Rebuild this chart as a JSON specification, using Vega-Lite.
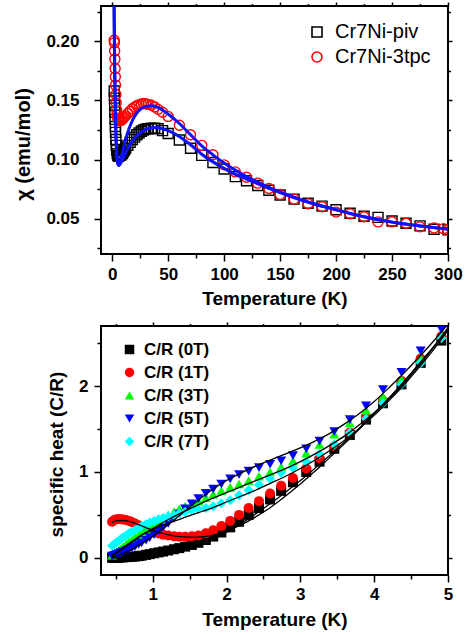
{
"$schema":"https://vega.github.io/schema/vega-lite/v6.json",
"padding":{"left":12,"top":0,"right":0,"bottom":0},
"background":"white",
"config":{"font":"Liberation Sans","view":{"stroke":"black","strokeWidth":2},
"axis":{"grid":false,"domain":false,"labelFontSize":17,"labelFontWeight":"bold","titleFontSize":19,"titleFontWeight":"bold","labelColor":"black","titleColor":"black","tickColor":"black","tickWidth":1.5,"labelOverlap":false,"labelFlush":false}},
"resolve":{"scale":{"color":"independent","shape":"independent"},"legend":{"color":"independent","shape":"independent"}},
"datasets":{
"chi":[
{"T":1.8,"v":0.158,"s":"Cr7Ni-piv"},{"T":2.0,"v":0.152,"s":"Cr7Ni-piv"},{"T":2.2,"v":0.146,"s":"Cr7Ni-piv"},{"T":2.4,"v":0.140,"s":"Cr7Ni-piv"},{"T":2.6,"v":0.134,"s":"Cr7Ni-piv"},{"T":2.8,"v":0.128,"s":"Cr7Ni-piv"},{"T":3.0,"v":0.123,"s":"Cr7Ni-piv"},{"T":3.3,"v":0.117,"s":"Cr7Ni-piv"},{"T":3.6,"v":0.112,"s":"Cr7Ni-piv"},{"T":4.0,"v":0.108,"s":"Cr7Ni-piv"},{"T":4.5,"v":0.105,"s":"Cr7Ni-piv"},{"T":5.0,"v":0.1035,"s":"Cr7Ni-piv"},{"T":5.5,"v":0.103,"s":"Cr7Ni-piv"},{"T":6,"v":0.103,"s":"Cr7Ni-piv"},{"T":7,"v":0.1035,"s":"Cr7Ni-piv"},{"T":8,"v":0.104,"s":"Cr7Ni-piv"},{"T":9,"v":0.105,"s":"Cr7Ni-piv"},{"T":10,"v":0.1065,"s":"Cr7Ni-piv"},{"T":11,"v":0.108,"s":"Cr7Ni-piv"},{"T":12,"v":0.1095,"s":"Cr7Ni-piv"},{"T":14,"v":0.112,"s":"Cr7Ni-piv"},{"T":16,"v":0.1145,"s":"Cr7Ni-piv"},{"T":18,"v":0.117,"s":"Cr7Ni-piv"},{"T":20,"v":0.119,"s":"Cr7Ni-piv"},{"T":22,"v":0.121,"s":"Cr7Ni-piv"},{"T":24,"v":0.1225,"s":"Cr7Ni-piv"},{"T":26,"v":0.124,"s":"Cr7Ni-piv"},{"T":28,"v":0.125,"s":"Cr7Ni-piv"},{"T":30,"v":0.1257,"s":"Cr7Ni-piv"},{"T":32,"v":0.126,"s":"Cr7Ni-piv"},{"T":35,"v":0.1265,"s":"Cr7Ni-piv"},{"T":38,"v":0.1265,"s":"Cr7Ni-piv"},{"T":41,"v":0.126,"s":"Cr7Ni-piv"},{"T":45,"v":0.1245,"s":"Cr7Ni-piv"},{"T":50,"v":0.122,"s":"Cr7Ni-piv"},{"T":60,"v":0.1165,"s":"Cr7Ni-piv"},{"T":70,"v":0.1095,"s":"Cr7Ni-piv"},{"T":80,"v":0.1035,"s":"Cr7Ni-piv"},{"T":90,"v":0.0975,"s":"Cr7Ni-piv"},{"T":100,"v":0.092,"s":"Cr7Ni-piv"},{"T":110,"v":0.0855,"s":"Cr7Ni-piv"},{"T":120,"v":0.082,"s":"Cr7Ni-piv"},{"T":130,"v":0.078,"s":"Cr7Ni-piv"},{"T":140,"v":0.074,"s":"Cr7Ni-piv"},{"T":150,"v":0.070,"s":"Cr7Ni-piv"},{"T":162.5,"v":0.0665,"s":"Cr7Ni-piv"},{"T":175,"v":0.063,"s":"Cr7Ni-piv"},{"T":187.5,"v":0.0605,"s":"Cr7Ni-piv"},{"T":200,"v":0.0575,"s":"Cr7Ni-piv"},{"T":212.5,"v":0.0545,"s":"Cr7Ni-piv"},{"T":225,"v":0.052,"s":"Cr7Ni-piv"},{"T":237.5,"v":0.051,"s":"Cr7Ni-piv"},{"T":250,"v":0.048,"s":"Cr7Ni-piv"},{"T":262.5,"v":0.046,"s":"Cr7Ni-piv"},{"T":275,"v":0.0438,"s":"Cr7Ni-piv"},{"T":287.5,"v":0.041,"s":"Cr7Ni-piv"},{"T":300,"v":0.0405,"s":"Cr7Ni-piv"},
{"T":1.8,"v":0.201,"s":"Cr7Ni-3tpc"},{"T":2.0,"v":0.199,"s":"Cr7Ni-3tpc"},{"T":2.2,"v":0.192,"s":"Cr7Ni-3tpc"},{"T":2.4,"v":0.185,"s":"Cr7Ni-3tpc"},{"T":2.6,"v":0.177,"s":"Cr7Ni-3tpc"},{"T":2.8,"v":0.170,"s":"Cr7Ni-3tpc"},{"T":3.0,"v":0.163,"s":"Cr7Ni-3tpc"},{"T":3.3,"v":0.155,"s":"Cr7Ni-3tpc"},{"T":3.6,"v":0.148,"s":"Cr7Ni-3tpc"},{"T":4.0,"v":0.142,"s":"Cr7Ni-3tpc"},{"T":4.5,"v":0.138,"s":"Cr7Ni-3tpc"},{"T":5.0,"v":0.135,"s":"Cr7Ni-3tpc"},{"T":5.5,"v":0.134,"s":"Cr7Ni-3tpc"},{"T":6,"v":0.133,"s":"Cr7Ni-3tpc"},{"T":7,"v":0.133,"s":"Cr7Ni-3tpc"},{"T":8,"v":0.133,"s":"Cr7Ni-3tpc"},{"T":9,"v":0.134,"s":"Cr7Ni-3tpc"},{"T":10,"v":0.135,"s":"Cr7Ni-3tpc"},{"T":11,"v":0.136,"s":"Cr7Ni-3tpc"},{"T":12,"v":0.137,"s":"Cr7Ni-3tpc"},{"T":14,"v":0.139,"s":"Cr7Ni-3tpc"},{"T":16,"v":0.141,"s":"Cr7Ni-3tpc"},{"T":18,"v":0.143,"s":"Cr7Ni-3tpc"},{"T":20,"v":0.1445,"s":"Cr7Ni-3tpc"},{"T":22,"v":0.1455,"s":"Cr7Ni-3tpc"},{"T":24,"v":0.1465,"s":"Cr7Ni-3tpc"},{"T":26,"v":0.147,"s":"Cr7Ni-3tpc"},{"T":28,"v":0.1475,"s":"Cr7Ni-3tpc"},{"T":30,"v":0.1472,"s":"Cr7Ni-3tpc"},{"T":32,"v":0.1467,"s":"Cr7Ni-3tpc"},{"T":35,"v":0.146,"s":"Cr7Ni-3tpc"},{"T":38,"v":0.1445,"s":"Cr7Ni-3tpc"},{"T":41,"v":0.1425,"s":"Cr7Ni-3tpc"},{"T":45,"v":0.140,"s":"Cr7Ni-3tpc"},{"T":50,"v":0.1365,"s":"Cr7Ni-3tpc"},{"T":60,"v":0.129,"s":"Cr7Ni-3tpc"},{"T":70,"v":0.121,"s":"Cr7Ni-3tpc"},{"T":80,"v":0.112,"s":"Cr7Ni-3tpc"},{"T":90,"v":0.104,"s":"Cr7Ni-3tpc"},{"T":100,"v":0.0955,"s":"Cr7Ni-3tpc"},{"T":110,"v":0.0895,"s":"Cr7Ni-3tpc"},{"T":120,"v":0.085,"s":"Cr7Ni-3tpc"},{"T":130,"v":0.080,"s":"Cr7Ni-3tpc"},{"T":140,"v":0.0755,"s":"Cr7Ni-3tpc"},{"T":150,"v":0.0705,"s":"Cr7Ni-3tpc"},{"T":162.5,"v":0.0665,"s":"Cr7Ni-3tpc"},{"T":175,"v":0.0625,"s":"Cr7Ni-3tpc"},{"T":187.5,"v":0.060,"s":"Cr7Ni-3tpc"},{"T":200,"v":0.0555,"s":"Cr7Ni-3tpc"},{"T":212.5,"v":0.054,"s":"Cr7Ni-3tpc"},{"T":225,"v":0.0515,"s":"Cr7Ni-3tpc"},{"T":237.5,"v":0.0472,"s":"Cr7Ni-3tpc"},{"T":250,"v":0.0472,"s":"Cr7Ni-3tpc"},{"T":262.5,"v":0.046,"s":"Cr7Ni-3tpc"},{"T":275,"v":0.043,"s":"Cr7Ni-3tpc"},{"T":287.5,"v":0.042,"s":"Cr7Ni-3tpc"},{"T":296,"v":0.0415,"s":"Cr7Ni-3tpc"},{"T":300,"v":0.040,"s":"Cr7Ni-3tpc"}
],
"chifit":[
{"T":1.3,"v":0.30,"f":"a"},{"T":1.5,"v":0.26,"f":"a"},{"T":1.7,"v":0.23,"f":"a"},{"T":2.0,"v":0.197,"f":"a"},{"T":2.3,"v":0.172,"f":"a"},{"T":2.6,"v":0.153,"f":"a"},{"T":3.0,"v":0.133,"f":"a"},{"T":3.5,"v":0.116,"f":"a"},{"T":4.0,"v":0.106,"f":"a"},{"T":4.5,"v":0.100,"f":"a"},{"T":5.0,"v":0.097,"f":"a"},{"T":5.5,"v":0.0955,"f":"a"},{"T":6.0,"v":0.095,"f":"a"},{"T":7,"v":0.0975,"f":"a"},{"T":8,"v":0.101,"f":"a"},{"T":10,"v":0.109,"f":"a"},{"T":12,"v":0.117,"f":"a"},{"T":15,"v":0.126,"f":"a"},{"T":18,"v":0.133,"f":"a"},{"T":21,"v":0.138,"f":"a"},{"T":25,"v":0.1425,"f":"a"},{"T":30,"v":0.145,"f":"a"},{"T":35,"v":0.1455,"f":"a"},{"T":40,"v":0.1445,"f":"a"},{"T":45,"v":0.142,"f":"a"},{"T":50,"v":0.1385,"f":"a"},{"T":60,"v":0.1305,"f":"a"},{"T":70,"v":0.121,"f":"a"},{"T":80,"v":0.1115,"f":"a"},{"T":90,"v":0.104,"f":"a"},{"T":100,"v":0.097,"f":"a"},{"T":110,"v":0.091,"f":"a"},{"T":120,"v":0.0855,"f":"a"},{"T":140,"v":0.0765,"f":"a"},{"T":160,"v":0.069,"f":"a"},{"T":180,"v":0.0625,"f":"a"},{"T":200,"v":0.0575,"f":"a"},{"T":225,"v":0.0515,"f":"a"},{"T":250,"v":0.047,"f":"a"},{"T":275,"v":0.0438,"f":"a"},{"T":300,"v":0.0412,"f":"a"},
{"T":1.3,"v":0.30,"f":"b"},{"T":1.5,"v":0.26,"f":"b"},{"T":1.7,"v":0.23,"f":"b"},{"T":2.0,"v":0.197,"f":"b"},{"T":2.3,"v":0.172,"f":"b"},{"T":2.6,"v":0.153,"f":"b"},{"T":3.0,"v":0.133,"f":"b"},{"T":3.5,"v":0.116,"f":"b"},{"T":4.0,"v":0.106,"f":"b"},{"T":4.5,"v":0.100,"f":"b"},{"T":5.0,"v":0.097,"f":"b"},{"T":5.5,"v":0.0955,"f":"b"},{"T":6.0,"v":0.095,"f":"b"},{"T":7,"v":0.096,"f":"b"},{"T":8,"v":0.0975,"f":"b"},{"T":10,"v":0.1015,"f":"b"},{"T":12,"v":0.1055,"f":"b"},{"T":15,"v":0.111,"f":"b"},{"T":18,"v":0.1155,"f":"b"},{"T":21,"v":0.119,"f":"b"},{"T":25,"v":0.1225,"f":"b"},{"T":30,"v":0.1255,"f":"b"},{"T":35,"v":0.127,"f":"b"},{"T":40,"v":0.1272,"f":"b"},{"T":45,"v":0.126,"f":"b"},{"T":50,"v":0.1245,"f":"b"},{"T":60,"v":0.1195,"f":"b"},{"T":70,"v":0.1125,"f":"b"},{"T":80,"v":0.1045,"f":"b"},{"T":90,"v":0.098,"f":"b"},{"T":100,"v":0.0925,"f":"b"},{"T":110,"v":0.0875,"f":"b"},{"T":120,"v":0.0835,"f":"b"},{"T":140,"v":0.0755,"f":"b"},{"T":160,"v":0.0685,"f":"b"},{"T":180,"v":0.0625,"f":"b"},{"T":200,"v":0.0575,"f":"b"},{"T":225,"v":0.0515,"f":"b"},{"T":250,"v":0.047,"f":"b"},{"T":275,"v":0.0438,"f":"b"},{"T":300,"v":0.0412,"f":"b"}
],
"cp":[
{"T":0.45,"C":0.0,"s":"C/R (0T)"},{"T":0.48,"C":0.0,"s":"C/R (0T)"},{"T":0.51,"C":0.0,"s":"C/R (0T)"},{"T":0.54,"C":0.004,"s":"C/R (0T)"},{"T":0.57,"C":0.005,"s":"C/R (0T)"},{"T":0.60,"C":0.006,"s":"C/R (0T)"},{"T":0.64,"C":0.008,"s":"C/R (0T)"},{"T":0.68,"C":0.01,"s":"C/R (0T)"},{"T":0.72,"C":0.012,"s":"C/R (0T)"},{"T":0.76,"C":0.015,"s":"C/R (0T)"},{"T":0.81,"C":0.02,"s":"C/R (0T)"},{"T":0.85,"C":0.025,"s":"C/R (0T)"},{"T":0.91,"C":0.034,"s":"C/R (0T)"},{"T":0.96,"C":0.043,"s":"C/R (0T)"},{"T":1.02,"C":0.053,"s":"C/R (0T)"},{"T":1.08,"C":0.063,"s":"C/R (0T)"},{"T":1.14,"C":0.073,"s":"C/R (0T)"},{"T":1.21,"C":0.085,"s":"C/R (0T)"},{"T":1.29,"C":0.10,"s":"C/R (0T)"},{"T":1.36,"C":0.113,"s":"C/R (0T)"},{"T":1.44,"C":0.13,"s":"C/R (0T)"},{"T":1.53,"C":0.15,"s":"C/R (0T)"},{"T":1.62,"C":0.175,"s":"C/R (0T)"},{"T":1.72,"C":0.208,"s":"C/R (0T)"},{"T":1.82,"C":0.248,"s":"C/R (0T)"},{"T":1.93,"C":0.295,"s":"C/R (0T)"},{"T":2.05,"C":0.355,"s":"C/R (0T)"},{"T":2.17,"C":0.42,"s":"C/R (0T)"},{"T":2.30,"C":0.50,"s":"C/R (0T)"},{"T":2.44,"C":0.58,"s":"C/R (0T)"},{"T":2.59,"C":0.68,"s":"C/R (0T)"},{"T":2.74,"C":0.78,"s":"C/R (0T)"},{"T":2.90,"C":0.88,"s":"C/R (0T)"},{"T":3.08,"C":1.00,"s":"C/R (0T)"},{"T":3.26,"C":1.12,"s":"C/R (0T)"},{"T":3.46,"C":1.27,"s":"C/R (0T)"},{"T":3.67,"C":1.43,"s":"C/R (0T)"},{"T":3.89,"C":1.61,"s":"C/R (0T)"},{"T":4.12,"C":1.80,"s":"C/R (0T)"},{"T":4.37,"C":2.02,"s":"C/R (0T)"},{"T":4.63,"C":2.27,"s":"C/R (0T)"},{"T":4.91,"C":2.53,"s":"C/R (0T)"},
{"T":0.45,"C":0.42,"s":"C/R (1T)"},{"T":0.48,"C":0.44,"s":"C/R (1T)"},{"T":0.51,"C":0.45,"s":"C/R (1T)"},{"T":0.54,"C":0.45,"s":"C/R (1T)"},{"T":0.57,"C":0.45,"s":"C/R (1T)"},{"T":0.60,"C":0.445,"s":"C/R (1T)"},{"T":0.64,"C":0.44,"s":"C/R (1T)"},{"T":0.68,"C":0.43,"s":"C/R (1T)"},{"T":0.72,"C":0.415,"s":"C/R (1T)"},{"T":0.76,"C":0.40,"s":"C/R (1T)"},{"T":0.81,"C":0.38,"s":"C/R (1T)"},{"T":0.85,"C":0.36,"s":"C/R (1T)"},{"T":0.91,"C":0.34,"s":"C/R (1T)"},{"T":0.96,"C":0.32,"s":"C/R (1T)"},{"T":1.02,"C":0.30,"s":"C/R (1T)"},{"T":1.08,"C":0.285,"s":"C/R (1T)"},{"T":1.14,"C":0.27,"s":"C/R (1T)"},{"T":1.21,"C":0.26,"s":"C/R (1T)"},{"T":1.29,"C":0.25,"s":"C/R (1T)"},{"T":1.36,"C":0.245,"s":"C/R (1T)"},{"T":1.44,"C":0.245,"s":"C/R (1T)"},{"T":1.53,"C":0.25,"s":"C/R (1T)"},{"T":1.62,"C":0.26,"s":"C/R (1T)"},{"T":1.72,"C":0.285,"s":"C/R (1T)"},{"T":1.82,"C":0.32,"s":"C/R (1T)"},{"T":1.93,"C":0.37,"s":"C/R (1T)"},{"T":2.05,"C":0.43,"s":"C/R (1T)"},{"T":2.17,"C":0.50,"s":"C/R (1T)"},{"T":2.30,"C":0.58,"s":"C/R (1T)"},{"T":2.44,"C":0.66,"s":"C/R (1T)"},{"T":2.59,"C":0.75,"s":"C/R (1T)"},{"T":2.74,"C":0.84,"s":"C/R (1T)"},{"T":2.90,"C":0.93,"s":"C/R (1T)"},{"T":3.08,"C":1.04,"s":"C/R (1T)"},{"T":3.26,"C":1.16,"s":"C/R (1T)"},{"T":3.46,"C":1.30,"s":"C/R (1T)"},{"T":3.67,"C":1.46,"s":"C/R (1T)"},{"T":3.89,"C":1.64,"s":"C/R (1T)"},{"T":4.12,"C":1.83,"s":"C/R (1T)"},{"T":4.37,"C":2.06,"s":"C/R (1T)"},{"T":4.63,"C":2.32,"s":"C/R (1T)"},{"T":4.91,"C":2.58,"s":"C/R (1T)"},
{"T":0.45,"C":0.03,"s":"C/R (3T)"},{"T":0.48,"C":0.05,"s":"C/R (3T)"},{"T":0.51,"C":0.07,"s":"C/R (3T)"},{"T":0.54,"C":0.09,"s":"C/R (3T)"},{"T":0.57,"C":0.11,"s":"C/R (3T)"},{"T":0.60,"C":0.13,"s":"C/R (3T)"},{"T":0.64,"C":0.16,"s":"C/R (3T)"},{"T":0.68,"C":0.19,"s":"C/R (3T)"},{"T":0.72,"C":0.21,"s":"C/R (3T)"},{"T":0.76,"C":0.24,"s":"C/R (3T)"},{"T":0.81,"C":0.27,"s":"C/R (3T)"},{"T":0.85,"C":0.30,"s":"C/R (3T)"},{"T":0.91,"C":0.33,"s":"C/R (3T)"},{"T":0.96,"C":0.36,"s":"C/R (3T)"},{"T":1.02,"C":0.40,"s":"C/R (3T)"},{"T":1.08,"C":0.43,"s":"C/R (3T)"},{"T":1.14,"C":0.46,"s":"C/R (3T)"},{"T":1.21,"C":0.50,"s":"C/R (3T)"},{"T":1.29,"C":0.54,"s":"C/R (3T)"},{"T":1.36,"C":0.57,"s":"C/R (3T)"},{"T":1.44,"C":0.60,"s":"C/R (3T)"},{"T":1.53,"C":0.63,"s":"C/R (3T)"},{"T":1.62,"C":0.66,"s":"C/R (3T)"},{"T":1.72,"C":0.70,"s":"C/R (3T)"},{"T":1.82,"C":0.74,"s":"C/R (3T)"},{"T":1.93,"C":0.78,"s":"C/R (3T)"},{"T":2.05,"C":0.82,"s":"C/R (3T)"},{"T":2.17,"C":0.86,"s":"C/R (3T)"},{"T":2.30,"C":0.90,"s":"C/R (3T)"},{"T":2.44,"C":0.95,"s":"C/R (3T)"},{"T":2.59,"C":1.00,"s":"C/R (3T)"},{"T":2.74,"C":1.06,"s":"C/R (3T)"},{"T":2.90,"C":1.13,"s":"C/R (3T)"},{"T":3.08,"C":1.22,"s":"C/R (3T)"},{"T":3.26,"C":1.32,"s":"C/R (3T)"},{"T":3.46,"C":1.44,"s":"C/R (3T)"},{"T":3.67,"C":1.57,"s":"C/R (3T)"},{"T":3.89,"C":1.72,"s":"C/R (3T)"},{"T":4.12,"C":1.88,"s":"C/R (3T)"},{"T":4.37,"C":2.08,"s":"C/R (3T)"},{"T":4.63,"C":2.33,"s":"C/R (3T)"},{"T":4.91,"C":2.60,"s":"C/R (3T)"},
{"T":0.45,"C":0.02,"s":"C/R (5T)"},{"T":0.48,"C":0.03,"s":"C/R (5T)"},{"T":0.51,"C":0.04,"s":"C/R (5T)"},{"T":0.54,"C":0.05,"s":"C/R (5T)"},{"T":0.57,"C":0.06,"s":"C/R (5T)"},{"T":0.60,"C":0.07,"s":"C/R (5T)"},{"T":0.64,"C":0.085,"s":"C/R (5T)"},{"T":0.68,"C":0.10,"s":"C/R (5T)"},{"T":0.72,"C":0.115,"s":"C/R (5T)"},{"T":0.76,"C":0.13,"s":"C/R (5T)"},{"T":0.81,"C":0.155,"s":"C/R (5T)"},{"T":0.85,"C":0.175,"s":"C/R (5T)"},{"T":0.91,"C":0.205,"s":"C/R (5T)"},{"T":0.96,"C":0.235,"s":"C/R (5T)"},{"T":1.02,"C":0.27,"s":"C/R (5T)"},{"T":1.08,"C":0.31,"s":"C/R (5T)"},{"T":1.14,"C":0.35,"s":"C/R (5T)"},{"T":1.21,"C":0.40,"s":"C/R (5T)"},{"T":1.29,"C":0.46,"s":"C/R (5T)"},{"T":1.36,"C":0.51,"s":"C/R (5T)"},{"T":1.44,"C":0.57,"s":"C/R (5T)"},{"T":1.53,"C":0.63,"s":"C/R (5T)"},{"T":1.62,"C":0.69,"s":"C/R (5T)"},{"T":1.72,"C":0.75,"s":"C/R (5T)"},{"T":1.82,"C":0.80,"s":"C/R (5T)"},{"T":1.93,"C":0.86,"s":"C/R (5T)"},{"T":2.05,"C":0.92,"s":"C/R (5T)"},{"T":2.17,"C":0.97,"s":"C/R (5T)"},{"T":2.30,"C":1.01,"s":"C/R (5T)"},{"T":2.44,"C":1.05,"s":"C/R (5T)"},{"T":2.59,"C":1.09,"s":"C/R (5T)"},{"T":2.74,"C":1.13,"s":"C/R (5T)"},{"T":2.90,"C":1.19,"s":"C/R (5T)"},{"T":3.08,"C":1.27,"s":"C/R (5T)"},{"T":3.26,"C":1.36,"s":"C/R (5T)"},{"T":3.46,"C":1.47,"s":"C/R (5T)"},{"T":3.67,"C":1.61,"s":"C/R (5T)"},{"T":3.89,"C":1.77,"s":"C/R (5T)"},{"T":4.12,"C":1.96,"s":"C/R (5T)"},{"T":4.37,"C":2.16,"s":"C/R (5T)"},{"T":4.63,"C":2.41,"s":"C/R (5T)"},{"T":4.91,"C":2.66,"s":"C/R (5T)"},
{"T":0.45,"C":0.14,"s":"C/R (7T)"},{"T":0.48,"C":0.16,"s":"C/R (7T)"},{"T":0.51,"C":0.18,"s":"C/R (7T)"},{"T":0.54,"C":0.20,"s":"C/R (7T)"},{"T":0.57,"C":0.22,"s":"C/R (7T)"},{"T":0.60,"C":0.24,"s":"C/R (7T)"},{"T":0.64,"C":0.26,"s":"C/R (7T)"},{"T":0.68,"C":0.285,"s":"C/R (7T)"},{"T":0.72,"C":0.305,"s":"C/R (7T)"},{"T":0.76,"C":0.325,"s":"C/R (7T)"},{"T":0.81,"C":0.35,"s":"C/R (7T)"},{"T":0.85,"C":0.37,"s":"C/R (7T)"},{"T":0.91,"C":0.39,"s":"C/R (7T)"},{"T":0.96,"C":0.41,"s":"C/R (7T)"},{"T":1.02,"C":0.43,"s":"C/R (7T)"},{"T":1.08,"C":0.45,"s":"C/R (7T)"},{"T":1.14,"C":0.465,"s":"C/R (7T)"},{"T":1.21,"C":0.48,"s":"C/R (7T)"},{"T":1.29,"C":0.50,"s":"C/R (7T)"},{"T":1.36,"C":0.52,"s":"C/R (7T)"},{"T":1.44,"C":0.535,"s":"C/R (7T)"},{"T":1.53,"C":0.55,"s":"C/R (7T)"},{"T":1.62,"C":0.565,"s":"C/R (7T)"},{"T":1.72,"C":0.58,"s":"C/R (7T)"},{"T":1.82,"C":0.60,"s":"C/R (7T)"},{"T":1.93,"C":0.635,"s":"C/R (7T)"},{"T":2.05,"C":0.67,"s":"C/R (7T)"},{"T":2.17,"C":0.73,"s":"C/R (7T)"},{"T":2.30,"C":0.79,"s":"C/R (7T)"},{"T":2.44,"C":0.85,"s":"C/R (7T)"},{"T":2.59,"C":0.92,"s":"C/R (7T)"},{"T":2.74,"C":0.99,"s":"C/R (7T)"},{"T":2.90,"C":1.05,"s":"C/R (7T)"},{"T":3.08,"C":1.12,"s":"C/R (7T)"},{"T":3.26,"C":1.21,"s":"C/R (7T)"},{"T":3.46,"C":1.32,"s":"C/R (7T)"},{"T":3.67,"C":1.46,"s":"C/R (7T)"},{"T":3.89,"C":1.62,"s":"C/R (7T)"},{"T":4.12,"C":1.80,"s":"C/R (7T)"},{"T":4.37,"C":2.02,"s":"C/R (7T)"},{"T":4.63,"C":2.27,"s":"C/R (7T)"},{"T":4.91,"C":2.56,"s":"C/R (7T)"}
],
"cpfit":[
{"T":0.45,"C":0.0,"f":"0"},{"T":0.5,"C":0.0,"f":"0"},{"T":0.6,"C":0.002,"f":"0"},{"T":0.7,"C":0.005,"f":"0"},{"T":0.8,"C":0.01,"f":"0"},{"T":0.9,"C":0.017,"f":"0"},{"T":1.0,"C":0.026,"f":"0"},{"T":1.2,"C":0.05,"f":"0"},{"T":1.4,"C":0.085,"f":"0"},{"T":1.6,"C":0.135,"f":"0"},{"T":1.8,"C":0.205,"f":"0"},{"T":2.0,"C":0.295,"f":"0"},{"T":2.2,"C":0.40,"f":"0"},{"T":2.4,"C":0.515,"f":"0"},{"T":2.6,"C":0.635,"f":"0"},{"T":2.8,"C":0.765,"f":"0"},{"T":3.0,"C":0.90,"f":"0"},{"T":3.2,"C":1.045,"f":"0"},{"T":3.4,"C":1.195,"f":"0"},{"T":3.6,"C":1.35,"f":"0"},{"T":3.8,"C":1.51,"f":"0"},{"T":4.0,"C":1.68,"f":"0"},{"T":4.2,"C":1.86,"f":"0"},{"T":4.4,"C":2.05,"f":"0"},{"T":4.6,"C":2.25,"f":"0"},{"T":4.8,"C":2.45,"f":"0"},{"T":5.0,"C":2.66,"f":"0"},
{"T":0.45,"C":0.41,"f":"1"},{"T":0.5,"C":0.43,"f":"1"},{"T":0.6,"C":0.435,"f":"1"},{"T":0.7,"C":0.42,"f":"1"},{"T":0.8,"C":0.39,"f":"1"},{"T":0.9,"C":0.355,"f":"1"},{"T":1.0,"C":0.32,"f":"1"},{"T":1.2,"C":0.27,"f":"1"},{"T":1.4,"C":0.245,"f":"1"},{"T":1.6,"C":0.24,"f":"1"},{"T":1.8,"C":0.26,"f":"1"},{"T":2.0,"C":0.31,"f":"1"},{"T":2.2,"C":0.385,"f":"1"},{"T":2.4,"C":0.48,"f":"1"},{"T":2.6,"C":0.59,"f":"1"},{"T":2.8,"C":0.72,"f":"1"},{"T":3.0,"C":0.86,"f":"1"},{"T":3.2,"C":1.01,"f":"1"},{"T":3.4,"C":1.17,"f":"1"},{"T":3.6,"C":1.33,"f":"1"},{"T":3.8,"C":1.50,"f":"1"},{"T":4.0,"C":1.68,"f":"1"},{"T":4.2,"C":1.86,"f":"1"},{"T":4.4,"C":2.05,"f":"1"},{"T":4.6,"C":2.25,"f":"1"},{"T":4.8,"C":2.45,"f":"1"},{"T":5.0,"C":2.66,"f":"1"},
{"T":0.45,"C":0.02,"f":"3"},{"T":0.5,"C":0.05,"f":"3"},{"T":0.6,"C":0.11,"f":"3"},{"T":0.7,"C":0.17,"f":"3"},{"T":0.8,"C":0.23,"f":"3"},{"T":0.9,"C":0.29,"f":"3"},{"T":1.0,"C":0.34,"f":"3"},{"T":1.2,"C":0.44,"f":"3"},{"T":1.4,"C":0.53,"f":"3"},{"T":1.6,"C":0.61,"f":"3"},{"T":1.8,"C":0.69,"f":"3"},{"T":2.0,"C":0.76,"f":"3"},{"T":2.2,"C":0.83,"f":"3"},{"T":2.4,"C":0.90,"f":"3"},{"T":2.6,"C":0.97,"f":"3"},{"T":2.8,"C":1.04,"f":"3"},{"T":3.0,"C":1.12,"f":"3"},{"T":3.2,"C":1.21,"f":"3"},{"T":3.4,"C":1.31,"f":"3"},{"T":3.6,"C":1.42,"f":"3"},{"T":3.8,"C":1.55,"f":"3"},{"T":4.0,"C":1.69,"f":"3"},{"T":4.2,"C":1.85,"f":"3"},{"T":4.4,"C":2.03,"f":"3"},{"T":4.6,"C":2.23,"f":"3"},{"T":4.8,"C":2.45,"f":"3"},{"T":5.0,"C":2.68,"f":"3"},
{"T":0.45,"C":0.01,"f":"5"},{"T":0.5,"C":0.02,"f":"5"},{"T":0.6,"C":0.05,"f":"5"},{"T":0.7,"C":0.09,"f":"5"},{"T":0.8,"C":0.14,"f":"5"},{"T":0.9,"C":0.19,"f":"5"},{"T":1.0,"C":0.25,"f":"5"},{"T":1.2,"C":0.38,"f":"5"},{"T":1.4,"C":0.52,"f":"5"},{"T":1.6,"C":0.66,"f":"5"},{"T":1.8,"C":0.79,"f":"5"},{"T":2.0,"C":0.90,"f":"5"},{"T":2.2,"C":0.99,"f":"5"},{"T":2.4,"C":1.07,"f":"5"},{"T":2.6,"C":1.14,"f":"5"},{"T":2.8,"C":1.21,"f":"5"},{"T":3.0,"C":1.28,"f":"5"},{"T":3.2,"C":1.36,"f":"5"},{"T":3.4,"C":1.45,"f":"5"},{"T":3.6,"C":1.56,"f":"5"},{"T":3.8,"C":1.68,"f":"5"},{"T":4.0,"C":1.82,"f":"5"},{"T":4.2,"C":1.98,"f":"5"},{"T":4.4,"C":2.15,"f":"5"},{"T":4.6,"C":2.33,"f":"5"},{"T":4.8,"C":2.52,"f":"5"},{"T":5.0,"C":2.72,"f":"5"},
{"T":0.45,"C":0.03,"f":"7"},{"T":0.5,"C":0.06,"f":"7"},{"T":0.6,"C":0.12,"f":"7"},{"T":0.7,"C":0.18,"f":"7"},{"T":0.8,"C":0.24,"f":"7"},{"T":0.9,"C":0.29,"f":"7"},{"T":1.0,"C":0.33,"f":"7"},{"T":1.2,"C":0.40,"f":"7"},{"T":1.4,"C":0.46,"f":"7"},{"T":1.6,"C":0.52,"f":"7"},{"T":1.8,"C":0.58,"f":"7"},{"T":2.0,"C":0.65,"f":"7"},{"T":2.2,"C":0.72,"f":"7"},{"T":2.4,"C":0.79,"f":"7"},{"T":2.6,"C":0.87,"f":"7"},{"T":2.8,"C":0.95,"f":"7"},{"T":3.0,"C":1.04,"f":"7"},{"T":3.2,"C":1.14,"f":"7"},{"T":3.4,"C":1.25,"f":"7"},{"T":3.6,"C":1.37,"f":"7"},{"T":3.8,"C":1.51,"f":"7"},{"T":4.0,"C":1.66,"f":"7"},{"T":4.2,"C":1.83,"f":"7"},{"T":4.4,"C":2.01,"f":"7"},{"T":4.6,"C":2.21,"f":"7"},{"T":4.8,"C":2.42,"f":"7"},{"T":5.0,"C":2.65,"f":"7"}
]
},
"vconcat":[
{
"width":347,"height":248,
"resolve":{"axis":{"x":"independent","y":"independent"}},
"layer":[
{"data":{"name":"chi"},
"mark":{"type":"point","filled":false,"strokeWidth":1.4,"size":100,"opacity":1,"clip":true},
"encoding":{
"x":{"field":"T","type":"quantitative","scale":{"domain":[-10,300],"nice":false,"zero":false},
"axis":{"orient":"bottom","values":[0,25,50,75,100,125,150,175,200,225,250,275,300],"labelExpr":"datum.value % 50 === 0 ? datum.label : ''","tickSize":{"condition":{"test":"datum.value % 50 === 0","value":7},"value":4},"labelPadding":5,"title":"Temperature (K)","titlePadding":7}},
"y":{"field":"v","type":"quantitative","scale":{"domain":[0.02,0.23],"nice":false,"zero":false},
"axis":{"orient":"left","values":[0.025,0.05,0.075,0.1,0.125,0.15,0.175,0.2,0.225],"format":".2f","labelExpr":"abs(datum.value*20 - round(datum.value*20)) < 0.001 ? datum.label : ''","tickSize":{"condition":{"test":"abs(datum.value*20 - round(datum.value*20)) < 0.001","value":7},"value":4},"labelPadding":15,"title":"χ (emu/mol)","titleFontSize":20,"titlePadding":12,"titleY":138}},
"color":{"field":"s","type":"nominal","scale":{"domain":["Cr7Ni-piv","Cr7Ni-3tpc"],"range":["#000000","#ff0000"]},
"legend":{"orient":"none","legendX":206,"legendY":16,"title":null,"labelFontSize":20,"labelFontWeight":"normal","labelColor":"black","symbolSize":100,"symbolStrokeWidth":1.6,"rowPadding":5,"labelOffset":8,"padding":0}},
"shape":{"field":"s","type":"nominal","scale":{"domain":["Cr7Ni-piv","Cr7Ni-3tpc"],"range":["square","circle"]},
"legend":{"orient":"none","legendX":206,"legendY":16,"title":null,"labelFontSize":20,"labelFontWeight":"normal","labelColor":"black","symbolSize":100,"symbolStrokeWidth":1.6,"rowPadding":5,"labelOffset":8,"padding":0}}
}},
{"data":{"name":"chifit"},
"mark":{"type":"line","color":"#1010f8","strokeWidth":3,"clip":true,"interpolate":"monotone"},
"encoding":{
"x":{"field":"T","type":"quantitative","axis":{"orient":"top","values":[0,25,50,75,100,125,150,175,200,225,250,275,300],"labels":false,"title":null,"tickSize":{"condition":{"test":"datum.value % 50 === 0","value":4},"value":2.5}}},
"y":{"field":"v","type":"quantitative","axis":{"orient":"right","values":[0.025,0.05,0.075,0.1,0.125,0.15,0.175,0.2,0.225],"labels":false,"title":null,"tickSize":{"condition":{"test":"abs(datum.value*20 - round(datum.value*20)) < 0.001","value":4},"value":2.5}}},
"detail":{"field":"f","type":"nominal"}
}}
]
},
{
"width":347,"height":249,
"resolve":{"axis":{"x":"independent","y":"independent"}},
"layer":[
{"data":{"name":"cp"},
"mark":{"type":"point","filled":true,"size":100,"opacity":1,"strokeWidth":0,"clip":true},
"encoding":{
"x":{"field":"T","type":"quantitative","scale":{"domain":[0.3,5],"nice":false,"zero":false},
"axis":{"orient":"bottom","values":[0.5,1,1.5,2,2.5,3,3.5,4,4.5,5],"labelExpr":"datum.value == round(datum.value) ? format(datum.value, 'd') : ''","tickSize":{"condition":{"test":"datum.value == round(datum.value)","value":7},"value":4},"labelPadding":4,"title":"Temperature (K)","titlePadding":8}},
"y":{"field":"C","type":"quantitative","scale":{"domain":[-0.2,2.7],"nice":false,"zero":false},
"axis":{"orient":"left","values":[0,0.5,1,1.5,2,2.5],"labelExpr":"datum.value == round(datum.value) ? format(datum.value, 'd') : ''","tickSize":{"condition":{"test":"datum.value == round(datum.value)","value":7},"value":4},"labelPadding":6,"title":"specific heat (C/R)","titlePadding":12,"titleY":128}},
"color":{"field":"s","type":"nominal","scale":{"domain":["C/R (0T)","C/R (1T)","C/R (3T)","C/R (5T)","C/R (7T)"],"range":["#000000","#ff0000","#00ff00","#0000ff","#00ffff"]},
"legend":{"orient":"none","legendX":20,"legendY":15,"title":null,"labelFontSize":17,"labelFontWeight":"bold","labelColor":"black","symbolSize":90,"rowPadding":5,"labelOffset":6,"padding":0}},
"shape":{"field":"s","type":"nominal","scale":{"domain":["C/R (0T)","C/R (1T)","C/R (3T)","C/R (5T)","C/R (7T)"],"range":["square","circle","triangle-up","triangle-down","diamond"]},
"legend":{"orient":"none","legendX":20,"legendY":15,"title":null,"labelFontSize":17,"labelFontWeight":"bold","labelColor":"black","symbolSize":90,"rowPadding":5,"labelOffset":6,"padding":0}},
"order":{"field":"s","type":"nominal"}
}},
{"data":{"name":"cpfit"},
"mark":{"type":"line","color":"black","strokeWidth":1.3,"clip":true,"interpolate":"monotone"},
"encoding":{
"x":{"field":"T","type":"quantitative","axis":{"orient":"top","values":[0.5,1,1.5,2,2.5,3,3.5,4,4.5,5],"labels":false,"title":null,"tickSize":{"condition":{"test":"datum.value == round(datum.value)","value":4},"value":2.5}}},
"y":{"field":"C","type":"quantitative","axis":{"orient":"right","values":[0,0.5,1,1.5,2,2.5],"labels":false,"title":null,"tickSize":{"condition":{"test":"datum.value == round(datum.value)","value":4},"value":2.5}}},
"detail":{"field":"f","type":"nominal"}
}}
]
}
],
"spacing":72,
"bounds":"flush"
}
